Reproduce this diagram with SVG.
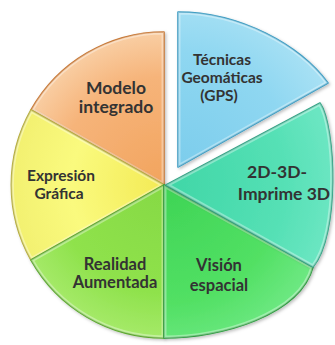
<svg xmlns="http://www.w3.org/2000/svg" width="335" height="345" viewBox="0 0 335 345">
<style>
.lbl{font-family:Lato,"Open Sans","Liberation Sans",sans-serif;font-weight:bold;text-anchor:middle;fill:#333}
.sl{stroke-width:1.6;stroke-linejoin:round}
.bev{fill:none;stroke:#fff;stroke-width:5;stroke-opacity:0.35;stroke-linejoin:round}
</style>
<defs>
<path id="p1" d="M164,185 L164,32 A153,153 0 0 0 31,110 Z"/>
<path id="p2" d="M164,185 L31,110 A153,153 0 0 0 31,260 Z"/>
<path id="p3" d="M164,185 L31,260 A153,153 0 0 0 164,338 Z"/>
<path id="p4" d="M164,185 L164,338 C222,338 300,315 313,267 Z"/>
<path id="p5" d="M166,185 L320,103 C336,126 340,235 313,267 Z"/>
<path id="p6" d="M178,167 L178,12 C240,12 300,45 328,83 Z"/>
<clipPath id="c1"><use href="#p1"/></clipPath>
<clipPath id="c2"><use href="#p2"/></clipPath>
<clipPath id="c3"><use href="#p3"/></clipPath>
<clipPath id="c4"><use href="#p4"/></clipPath>
<clipPath id="c5"><use href="#p5"/></clipPath>
<clipPath id="c6"><use href="#p6"/></clipPath>
<radialGradient id="gO" cx="164" cy="185" r="155" gradientUnits="userSpaceOnUse"><stop offset="0" stop-color="#f2a45e"/><stop offset="0.7" stop-color="#f6b47a"/><stop offset="1" stop-color="#f9cfa5"/></radialGradient>
<radialGradient id="gY" cx="164" cy="185" r="155" gradientUnits="userSpaceOnUse"><stop offset="0" stop-color="#f3ea55"/><stop offset="0.6" stop-color="#fafa7e"/><stop offset="1" stop-color="#f2f070"/></radialGradient>
<radialGradient id="gL" cx="164" cy="185" r="155" gradientUnits="userSpaceOnUse"><stop offset="0" stop-color="#86d944"/><stop offset="0.7" stop-color="#8fe24c"/><stop offset="1" stop-color="#a6ea6a"/></radialGradient>
<radialGradient id="gV" cx="164" cy="185" r="170" gradientUnits="userSpaceOnUse"><stop offset="0" stop-color="#3ed455"/><stop offset="0.7" stop-color="#52e064"/><stop offset="1" stop-color="#6de882"/></radialGradient>
<radialGradient id="gT" cx="164" cy="185" r="170" gradientUnits="userSpaceOnUse"><stop offset="0" stop-color="#3fd6a6"/><stop offset="0.7" stop-color="#55e0b5"/><stop offset="1" stop-color="#6be6c2"/></radialGradient>
<radialGradient id="gB" cx="178" cy="167" r="165" gradientUnits="userSpaceOnUse"><stop offset="0" stop-color="#7ccdec"/><stop offset="0.7" stop-color="#8fd7f1"/><stop offset="1" stop-color="#a6e0f4"/></radialGradient>
<filter id="sh" x="-10%" y="-10%" width="120%" height="120%"><feDropShadow dx="1.5" dy="1.5" stdDeviation="1.5" flood-color="#000" flood-opacity="0.25"/></filter>
</defs>
<rect width="335" height="345" fill="#fff"/>
<g id="modelo">
<use href="#p1" class="sl" fill="url(#gO)" stroke="#c77836" filter="url(#sh)"/>
<use href="#p1" class="bev" clip-path="url(#c1)"/>
<text class="lbl" font-size="17.5" x="116" y="94">Modelo</text>
<text class="lbl" font-size="17.5" x="116" y="113">integrado</text>
</g>
<g id="expresion">
<use href="#p2" class="sl" fill="url(#gY)" stroke="#b5ad3a" filter="url(#sh)"/>
<use href="#p2" class="bev" clip-path="url(#c2)"/>
<text class="lbl" font-size="15.5" x="61" y="181">Expresión</text>
<text class="lbl" font-size="15.5" x="59" y="199">Gráfica</text>
</g>
<g id="realidad">
<use href="#p3" class="sl" fill="url(#gL)" stroke="#5ca82e" filter="url(#sh)"/>
<use href="#p3" class="bev" clip-path="url(#c3)"/>
<text class="lbl" font-size="16.5" x="115" y="270">Realidad</text>
<text class="lbl" font-size="16.5" x="115" y="288">Aumentada</text>
</g>
<g id="vision">
<use href="#p4" class="sl" fill="url(#gV)" stroke="#2b9a3c" filter="url(#sh)"/>
<use href="#p4" class="bev" clip-path="url(#c4)"/>
<text class="lbl" font-size="16.5" x="219" y="271">Visión</text>
<text class="lbl" font-size="16.5" x="219" y="291">espacial</text>
</g>
<g id="imprime">
<use href="#p5" class="sl" fill="url(#gT)" stroke="#2fa283" filter="url(#sh)"/>
<use href="#p5" class="bev" clip-path="url(#c5)"/>
<text class="lbl" font-size="17.5" x="277" y="178">2D-3D-</text>
<text class="lbl" font-size="17.5" x="284" y="200">Imprime 3D</text>
</g>
<g id="tecnicas">
<use href="#p6" class="sl" fill="url(#gB)" stroke="#3d9cc2" filter="url(#sh)"/>
<use href="#p6" class="bev" clip-path="url(#c6)"/>
<text class="lbl" font-size="15.5" x="222" y="65">Técnicas</text>
<text class="lbl" font-size="15.5" x="222" y="83">Geomáticas</text>
<text class="lbl" font-size="15.5" x="219" y="101">(GPS)</text>
</g>
</svg>
